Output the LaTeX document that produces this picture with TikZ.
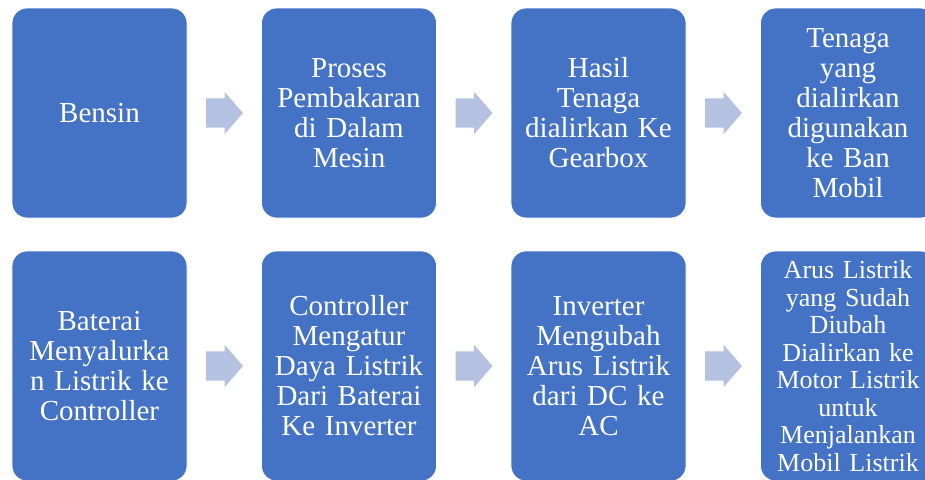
\documentclass[tikz,border=0pt]{standalone}
\usepackage{fontspec}
\setmainfont{Liberation Serif}
\usetikzlibrary{positioning,calc,shapes.arrows}

\definecolor{boxblue}{HTML}{4472C4}
\definecolor{arrowblue}{RGB}{180,193,224}

\begin{document}
\begin{tikzpicture}[
		x=1pt, y=-1pt,
		bigbox/.style={rectangle, rounded corners=15pt, draw=white, line width=0.8pt,
			fill=boxblue, text=white, minimum width=175pt, text width=170pt,
			align=center, inner sep=0pt, outer sep=0pt, font=\fontsize{29}{30}\selectfont},
		toprow/.style={bigbox, minimum height=210pt},
		botrow/.style={bigbox, minimum height=230pt},
		blockarrow/.style={single arrow, fill=arrowblue, draw=none, inner xsep=0pt,
			inner ysep=14.5pt, outer sep=0pt, minimum height=37pt, anchor=tail,
			single arrow head extend=6.5pt, single arrow tip angle=98}
		]
		\useasboundingbox (0,0) rectangle (925,479);

		\node[toprow] (B1) at (99.5,113) {Bensin};
		\node[toprow, right=74.5pt of B1] (B2) {Proses\\Pembakaran\\di Dalam\\Mesin};
		\node[toprow, right=74.5pt of B2] (B3) {Hasil\\Tenaga\\dialirkan Ke\\Gearbox};
		\node[toprow, right=74.5pt of B3] (B4) {Tenaga\\yang\\dialirkan\\digunakan\\ke Ban\\Mobil};

		\node[botrow, below=33pt of B1] (L1) {Baterai\\Menyalurka\\n Listrik ke\\Controller};
		\node[botrow, right=74.5pt of L1] (L2) {Controller\\Mengatur\\Daya Listrik\\Dari Baterai\\Ke Inverter};
		\node[botrow, right=74.5pt of L2] (L3) {Inverter\\Mengubah\\Arus Listrik\\dari DC ke\\AC};
		\node[botrow, right=74.5pt of L3, font=\fontsize{26}{27.5}\selectfont] (L4)
			{Arus Listrik\\yang Sudah\\Diubah\\Dialirkan ke\\Motor Listrik\\untuk\\Menjalankan\\Mobil Listrik};

		\node[blockarrow] (A1) at ($(B1.east)+(19,0)$) {};
		\node[blockarrow] (A2) at ($(B2.east)+(19,0)$) {};
		\node[blockarrow] (A3) at ($(B3.east)+(19,0)$) {};
		\node[blockarrow] (A4) at ($(L1.east)+(19,0)$) {};
		\node[blockarrow] (A5) at ($(L2.east)+(19,0)$) {};
		\node[blockarrow] (A6) at ($(L3.east)+(19,0)$) {};
	\end{tikzpicture}
\end{document}
